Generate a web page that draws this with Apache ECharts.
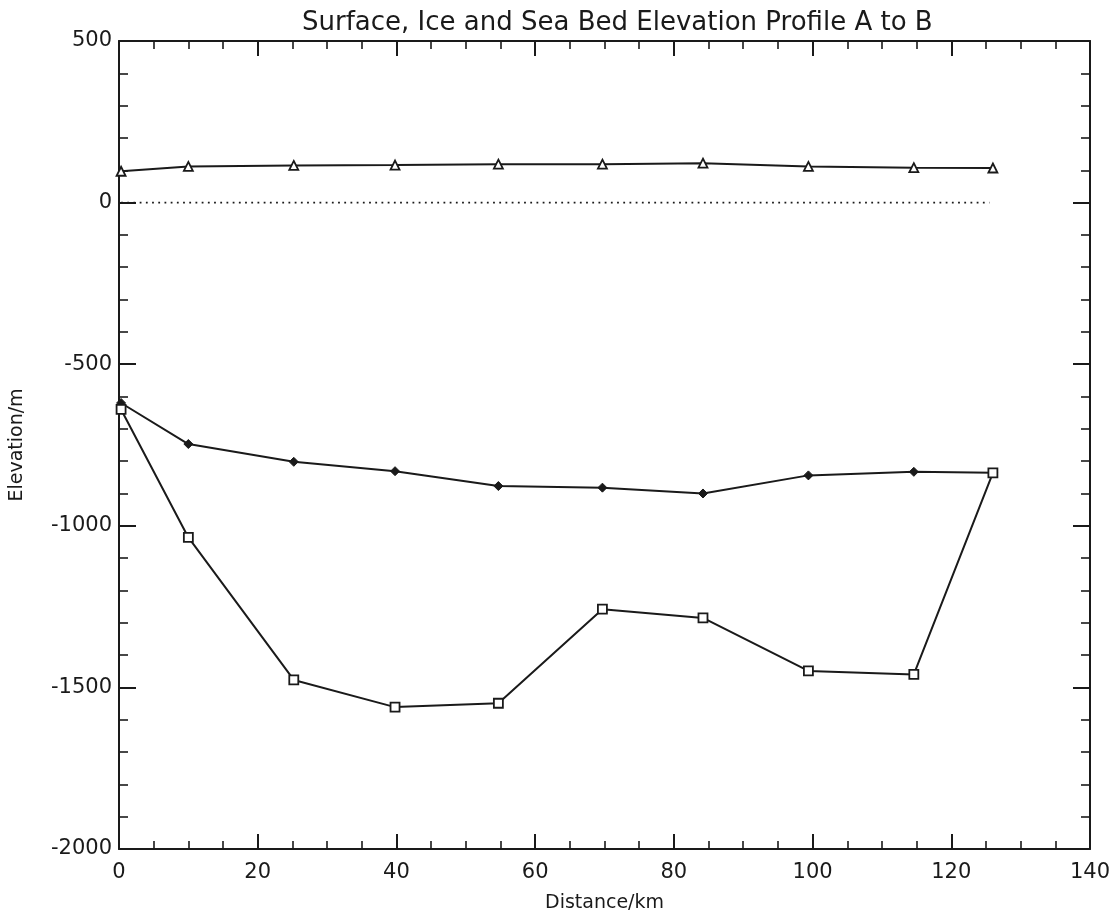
<!DOCTYPE html>
<html>
<head>
<meta charset="utf-8">
<title>Elevation Profile A to B</title>
<script src="https://cdn.jsdelivr.net/npm/echarts@6/dist/echarts.min.js"></script>
<style>
  html, body { margin: 0; padding: 0; background: #fff; }
  #chart { width: 1118px; height: 918px; }
</style>
</head>
<body>
<div id="chart"></div>
<script>
// distance along the profile (km), one per survey station
var distanceKm = [0.3, 10, 25.2, 39.8, 54.7, 69.7, 84.2, 99.4, 114.6, 126];
// elevations in metres
var surfaceElev = [97, 112, 115, 116, 119, 119, 122, 112, 108, 107];
var iceBaseElev = [-620, -747, -802, -831, -877, -882, -900, -844, -833, -836];
var seaBedElev  = [-640, -1036, -1477, -1561, -1549, -1258, -1285, -1449, -1460, -836];
// sea level reference line
var seaLevelKm = [0.3, 125.5];
var seaLevelElev = [0, 0];

function pairs(xs, ys) {
    var out = [];
    for (var i = 0; i < xs.length; i++) out.push([xs[i], ys[i]]);
    return out;
}

var fontFam = '"DejaVu Sans", sans-serif';
var ink = '#1a1a1a';

function xAx(pos, labels) {
    return {
        type: 'value', position: pos, min: 0, max: 140, interval: 20,
        axisLine: { show: true, onZero: false, lineStyle: { color: ink, width: 2 } },
        axisTick: { show: true, inside: true, length: 15, lineStyle: { color: ink, width: 2 } },
        minorTick: { show: true, splitNumber: 4, length: 8, lineStyle: { color: ink, width: 1.6 } },
        splitLine: { show: false },
        axisLabel: { show: labels, color: ink, fontFamily: fontFam, fontSize: 21, margin: 13 },
        name: labels ? 'Distance/km' : '',
        nameLocation: 'middle', nameGap: 45,
        nameTextStyle: { color: ink, fontFamily: fontFam, fontSize: 19 }
    };
}

function yAx(pos, labels) {
    return {
        type: 'value', position: pos, min: -2000, max: 500, interval: 500,
        axisLine: { show: true, onZero: false, lineStyle: { color: ink, width: 2 } },
        axisTick: { show: true, inside: true, length: 17, lineStyle: { color: ink, width: 2 } },
        minorTick: { show: true, splitNumber: 5, length: 9, lineStyle: { color: ink, width: 1.6 } },
        splitLine: { show: false },
        axisLabel: {
            show: labels, color: ink, fontFamily: fontFam, fontSize: 21, margin: 7,
            formatter: function (v) { return String(v); }
        },
        name: labels ? 'Elevation/m' : '',
        nameLocation: 'middle', nameGap: 92, nameRotate: 90,
        nameTextStyle: { color: ink, fontFamily: fontFam, fontSize: 19 }
    };
}

var lineStyle = { color: ink, width: 2 };

var option = {
    backgroundColor: '#fff',
    animation: false,
    title: {
        text: 'Surface, Ice and Sea Bed Elevation Profile A to B',
        left: 297, top: 5,
        textStyle: { color: ink, fontFamily: fontFam, fontSize: 26, fontWeight: 'normal' }
    },
    grid: { left: 118, right: 28, top: 41, bottom: 66 },
    xAxis: [xAx('bottom', true), xAx('top', false)],
    yAxis: [yAx('left', true), yAx('right', false)],
    series: [
        {
            name: 'Surface', type: 'line', data: pairs(distanceKm, surfaceElev),
            symbol: 'triangle', symbolSize: 9, lineStyle: lineStyle,
            itemStyle: { color: '#fff', borderColor: ink, borderWidth: 1.8 }
        },
        {
            name: 'Sea level', type: 'line', data: pairs(seaLevelKm, seaLevelElev),
            symbol: 'none', lineStyle: { color: ink, width: 1.8, type: [1.8, 4.4] }
        },
        {
            name: 'Ice base', type: 'line', data: pairs(distanceKm, iceBaseElev),
            symbol: 'diamond', symbolSize: 9, lineStyle: lineStyle,
            itemStyle: { color: ink, borderColor: ink, borderWidth: 1 }
        },
        {
            name: 'Sea bed', type: 'line', data: pairs(distanceKm, seaBedElev),
            symbol: 'rect', symbolSize: 9, lineStyle: lineStyle,
            itemStyle: { color: '#fff', borderColor: ink, borderWidth: 1.8 }
        }
    ]
};

var chart = echarts.init(document.getElementById('chart'));
chart.setOption(option);
</script>
</body>
</html>
